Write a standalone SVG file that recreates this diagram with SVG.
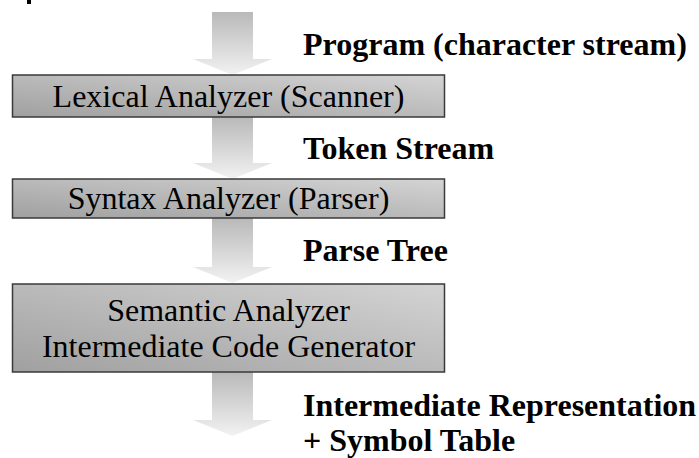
<svg xmlns="http://www.w3.org/2000/svg" width="699" height="458" viewBox="0 0 699 458">
<defs>
<linearGradient id="boxFill" x1="0" y1="1" x2="1" y2="0">
<stop offset="0" stop-color="#a0a0a0"/>
<stop offset="1" stop-color="#d4d4d4"/>
</linearGradient>
<linearGradient id="arrowFill" x1="0" y1="0" x2="0" y2="1">
<stop offset="0" stop-color="#b9b9b9"/>
<stop offset="1" stop-color="#f2f2f2"/>
</linearGradient>
</defs>
<style>
.box{fill:url(#boxFill);stroke:#3a3a3a;stroke-width:1.5}
.arrow{fill:url(#arrowFill);stroke:none}
.boxtext{font-family:"Liberation Serif","Times New Roman",serif;font-size:32px;fill:#000;text-anchor:middle}
.label{font-family:"Liberation Serif","Times New Roman",serif;font-size:32px;font-weight:bold;fill:#000}
</style>
<rect x="27" y="0" width="4" height="4" fill="#000"/>
<g id="connectors">
<path class="arrow" d="M212,12 H253 V59 H272 L232.5,75 L193,59 H212 Z"/>
<path class="arrow" d="M212,117 H253 V163 H272 L232.5,179 L193,163 H212 Z"/>
<path class="arrow" d="M212,218 H253 V267 H272 L232.5,283 L193,267 H212 Z"/>
<path class="arrow" d="M212,372 H253 V420 H272 L232.5,436 L193,420 H212 Z"/>
</g>
<g id="lexical">
<rect class="box" x="12.5" y="75" width="432" height="42"/>
<text class="boxtext" x="228.5" y="107">Lexical Analyzer (Scanner)</text>
</g>
<g id="syntax">
<rect class="box" x="12.5" y="179" width="432" height="39"/>
<text class="boxtext" x="228.5" y="209">Syntax Analyzer (Parser)</text>
</g>
<g id="semantic">
<rect class="box" x="12.5" y="284" width="432" height="88"/>
<text class="boxtext" x="228.5" y="321">Semantic Analyzer</text>
<text class="boxtext" x="228.5" y="357">Intermediate Code Generator</text>
</g>
<g id="labels">
<text class="label" x="303" y="55">Program (character stream)</text>
<text class="label" x="303" y="159">Token Stream</text>
<text class="label" x="303" y="261">Parse Tree</text>
<text class="label" x="303" y="416">Intermediate Representation</text>
<text class="label" x="303" y="451">+ Symbol Table</text>
</g>
</svg>
